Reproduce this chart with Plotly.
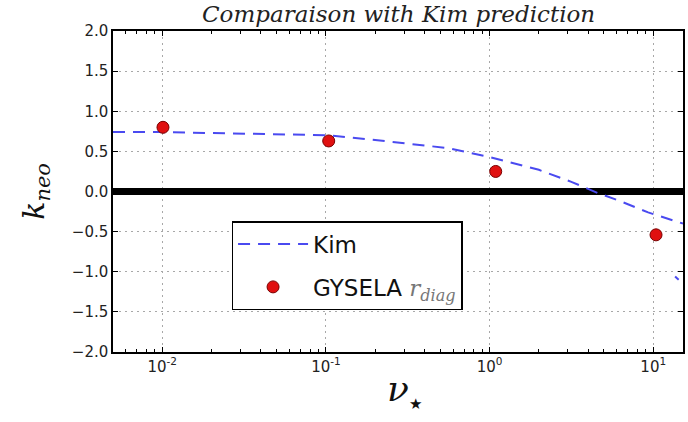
import plotly.graph_objects as go
import math

# Kim prediction curve
kim_x = [0.005, 0.01, 0.034, 0.106, 0.25, 0.56, 1.0, 2.0, 3.16, 4.6, 6.1, 9.3, 15.2, None, 13.6, 14.3]
kim_y = [0.74, 0.74, 0.72, 0.70, 0.62, 0.54, 0.43, 0.27, 0.12, -0.02, -0.11, -0.26, -0.40, None, -1.06, -1.10]

# GYSELA r_diag points
gys_x = [0.0101, 0.104, 1.09, 10.4]
gys_y = [0.80, 0.63, 0.25, -0.54]

x_ticks = [0.01, 0.1, 1, 10]
x_ticktext = ["10<sup>-2</sup>", "10<sup>-1</sup>", "10<sup>0</sup>", "10<sup>1</sup>"]
y_ticks = [-2.0, -1.5, -1.0, -0.5, 0.0, 0.5, 1.0, 1.5, 2.0]
y_ticktext = [("\u2212" if v < 0 else "") + f"{abs(v):.1f}" for v in y_ticks]

# log minor tick positions (2..9 within each decade)
minor_vals = [m * 10.0 ** e for e in range(-3, 2) for m in range(2, 10)]

fig = go.Figure()
fig.add_trace(go.Scatter(
    x=kim_x, y=kim_y, mode="lines", name="Kim", legendgroup="kim",
    line=dict(color="#4a4af0", width=2, dash="12px,8px"),
    connectgaps=False,
))
fig.add_trace(go.Scatter(
    x=gys_x, y=gys_y, mode="markers", legendgroup="gys",
    name="GYSELA <span style='font-family:DejaVu Serif;font-style:italic;color:#777'>r<sub>diag</sub></span>",
    marker=dict(color="#e01010", size=12, line=dict(color="#7a0000", width=1)),
))

axis_common = dict(
    showline=True, linecolor="black", linewidth=1.5, mirror="ticks",
    ticks="inside", tickcolor="black", ticklen=5,
    showgrid=True, gridcolor="#a8a8a8", gridwidth=1, griddash="2px,4px",
    tickfont=dict(family="DejaVu Sans", size=15, color="#222"),
)

fig.update_xaxes(
    type="log", range=[math.log10(0.005), math.log10(15.2)],
    tickvals=x_ticks, ticktext=x_ticktext,
    minor=dict(ticks="inside", ticklen=3, tickcolor="black", tickwidth=1,
               tickvals=minor_vals, showgrid=False),
    zeroline=False,
    **axis_common,
)
fig.update_yaxes(
    range=[-2.0, 2.0], tickvals=y_ticks, ticktext=y_ticktext,
    zeroline=True, zerolinecolor="black", zerolinewidth=7,
    **axis_common,
)

fig.update_layout(
    width=688, height=422,
    margin=dict(l=113, r=3, t=31, b=70),
    paper_bgcolor="white", plot_bgcolor="white",
    showlegend=True,
    legend=dict(
        x=0.208, y=0.408, xanchor="left", yanchor="top",
        bgcolor="white", bordercolor="black", borderwidth=1.5,
        font=dict(family="DejaVu Sans", size=23, color="#111"),
        itemwidth=70, tracegroupgap=10,
    ),
    annotations=[
        dict(text="<i>Comparaison with Kim prediction</i>", xref="paper", yref="paper",
             x=0.5, y=1.0, yshift=17, xanchor="center", yanchor="middle", showarrow=False,
             font=dict(family="DejaVu Serif", size=23, color="#222")),
        dict(text="<i>k</i><sub><i>neo</i></sub>", xref="paper", yref="paper",
             x=(35 - 113) / 572, y=0.5, xanchor="center", yanchor="middle", showarrow=False,
             textangle=-90, font=dict(family="DejaVu Serif", size=30, color="#111")),
        dict(text="<i>\u03bd</i><sub><span style='font-size:15px'>\u2605</span></sub>",
             xref="paper", yref="paper",
             x=(406 - 113) / 572, y=-(390 - 352) / 321, xanchor="center", yanchor="middle",
             showarrow=False, font=dict(family="DejaVu Serif", size=36, color="#111")),
    ],
)

fig.write_html("out.html")
